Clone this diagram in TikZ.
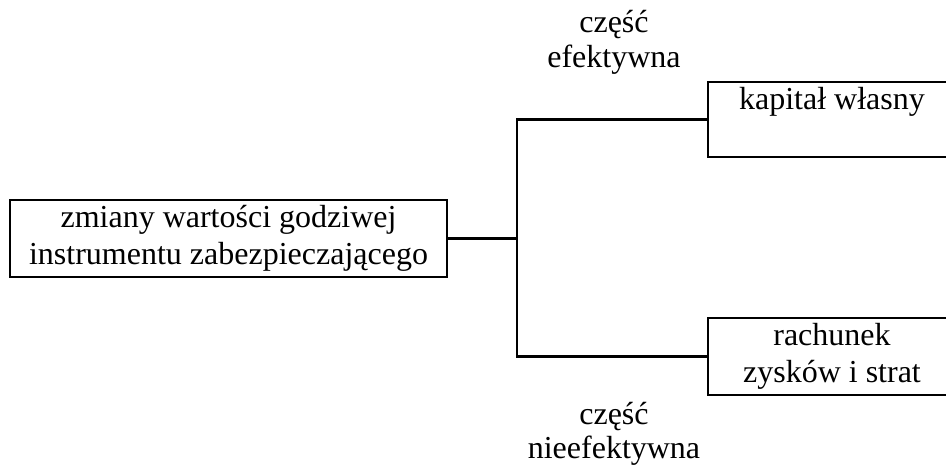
\documentclass[tikz,border=0pt]{standalone}
\usepackage{fontspec}
\setmainfont{Liberation Serif}
\begin{document}
\begin{tikzpicture}[x=1pt,y=-1pt,
  every node/.style={font=\fontsize{32}{37}\selectfont, align=center, inner sep=0pt, outer sep=0pt},
  box/.style={draw, line width=2.8pt},
  link/.style={line width=2.8pt},
  branch/.style={font=\fontsize{32}{34.5}\selectfont}]
  \clip (0,0) rectangle (946,468);
  % boxes
  \node[box, minimum width=437, minimum height=77] (zm) at (228.5,238.5)
    {\raisebox{-2.5pt}{zmiany wartości godziwej}\\\raisebox{-2.5pt}{instrumentu zabezpieczającego}};
  \node[box, minimum width=248, minimum height=75] (kap) at (832,119.5)
    {kapitał własny\\[-6pt]\strut};
  \node[box, minimum width=248, minimum height=77] (rzs) at (832,356.5)
    {rachunek\\zysków i strat};
  % branch labels
  \node[branch] (ef) at (614,42.5) {część\\efektywna};
  \node[branch] (nef) at (614,434) {część\\nieefektywna};
  % connectors
  \coordinate (j) at (517,238.5);
  \draw[link] (zm.east) -- (j);
  \draw[link] (kap.west) -| (j) |- (rzs.west);
\end{tikzpicture}
\end{document}
